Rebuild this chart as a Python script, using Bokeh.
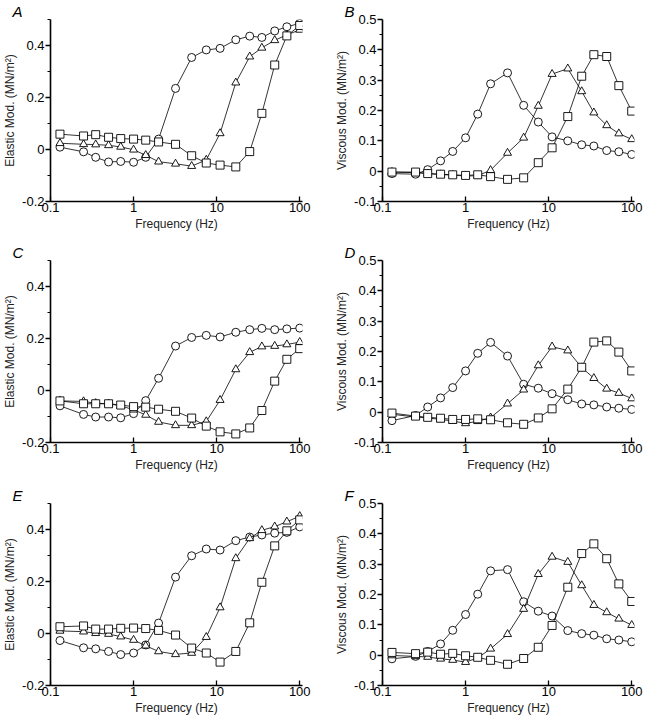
from bokeh.plotting import figure
from bokeh.layouts import column, row
from bokeh.models import FixedTicker, Range1d
from bokeh.embed import file_html
from bokeh.resources import INLINE

freq = [0.13, 0.25, 0.35, 0.5, 0.7, 1, 1.4, 2, 3.2, 5, 7.5, 11, 17, 25, 35, 50, 70, 100]

# Panel A (elastic)
a_circ = [0.009, -0.009, -0.03, -0.048, -0.046, -0.049, -0.03, 0.04, 0.235, 0.354, 0.383, 0.389, 0.422, 0.436, 0.431, 0.456, 0.472, 0.485]
a_tri = [0.024, 0.02, 0.019, 0.016, 0.01, -0.001, -0.022, -0.047, -0.055, -0.064, -0.04, 0.062, 0.257, 0.357, 0.391, 0.42, 0.441, 0.46]
a_sq = [0.059, 0.052, 0.057, 0.047, 0.042, 0.04, 0.036, 0.029, 0.02, -0.024, -0.052, -0.06, -0.067, -0.008, 0.139, 0.325, 0.437, 0.477]
# Panel B (viscous)
b_circ = [-0.008, -0.01, 0.005, 0.034, 0.065, 0.11, 0.188, 0.288, 0.324, 0.217, 0.162, 0.113, 0.1, 0.087, 0.083, 0.068, 0.064, 0.055]
b_tri = [-0.003, -0.005, -0.008, -0.011, -0.013, -0.016, -0.015, 0.003, 0.06, 0.11, 0.215, 0.32, 0.338, 0.263, 0.193, 0.151, 0.124, 0.105]
b_sq = [-0.003, -0.003, -0.008, -0.01, -0.012, -0.014, -0.012, -0.018, -0.027, -0.022, 0.028, 0.077, 0.18, 0.313, 0.384, 0.378, 0.282, 0.198]
# Panel C (elastic)
c_circ = [-0.059, -0.092, -0.102, -0.102, -0.105, -0.089, -0.039, 0.047, 0.171, 0.204, 0.212, 0.206, 0.224, 0.234, 0.239, 0.234, 0.237, 0.24]
c_tri = [-0.04, -0.042, -0.049, -0.051, -0.059, -0.074, -0.094, -0.121, -0.134, -0.134, -0.119, -0.037, 0.081, 0.147, 0.169, 0.171, 0.177, 0.186]
c_sq = [-0.04, -0.051, -0.051, -0.051, -0.056, -0.062, -0.064, -0.072, -0.08, -0.106, -0.137, -0.159, -0.167, -0.144, -0.077, 0.036, 0.12, 0.161]
# Panel D (viscous)
d_circ = [-0.028, -0.011, 0.017, 0.047, 0.081, 0.136, 0.194, 0.23, 0.185, 0.092, 0.079, 0.061, 0.041, 0.027, 0.024, 0.017, 0.013, 0.009]
d_tri = [-0.007, -0.016, -0.019, -0.024, -0.029, -0.037, -0.03, -0.018, 0.028, 0.074, 0.154, 0.216, 0.203, 0.147, 0.112, 0.077, 0.063, 0.045]
d_sq = [-0.003, -0.013, -0.017, -0.02, -0.024, -0.024, -0.022, -0.025, -0.035, -0.04, -0.019, 0.011, 0.076, 0.148, 0.231, 0.235, 0.198, 0.136]
# Panel E (elastic)
e_circ = [-0.027, -0.055, -0.059, -0.069, -0.081, -0.075, -0.044, 0.04, 0.217, 0.299, 0.325, 0.321, 0.357, 0.371, 0.379, 0.386, 0.389, 0.41]
e_tri = [0.01, 0.007, 0.001, -0.002, -0.012, -0.025, -0.047, -0.069, -0.08, -0.075, -0.014, 0.1, 0.289, 0.366, 0.397, 0.411, 0.43, 0.451]
e_sq = [0.026, 0.029, 0.017, 0.017, 0.02, 0.021, 0.019, 0.012, -0.006, -0.056, -0.075, -0.11, -0.069, 0.041, 0.197, 0.337, 0.395, 0.437]
# Panel F (viscous)
f_circ = [-0.012, -0.004, 0.012, 0.037, 0.082, 0.134, 0.201, 0.278, 0.282, 0.176, 0.145, 0.129, 0.081, 0.071, 0.066, 0.054, 0.05, 0.044]
f_tri = [-0.001, -0.004, -0.006, -0.012, -0.016, -0.023, -0.009, 0.021, 0.069, 0.152, 0.267, 0.324, 0.307, 0.23, 0.165, 0.141, 0.12, 0.099]
f_sq = [0.009, 0.005, 0.01, 0.003, 0.006, -0.002, -0.007, -0.017, -0.03, -0.011, 0.026, 0.098, 0.224, 0.335, 0.367, 0.318, 0.235, 0.177]

x_ticks = [0.1, 1, 10, 100]
x_tick_labels = ["0.1", "1", "10", "100"]
el_ticks = [-0.2, 0, 0.2, 0.4]
el_minor = [-0.1, 0.1, 0.3, 0.5]
el_labels = ["-0.2", "0", "0.2", "0.4"]
vi_ticks = [-0.1, 0, 0.1, 0.2, 0.3, 0.4, 0.5]
vi_minor = [-0.05, 0.05, 0.15, 0.25, 0.35, 0.45]
vi_labels = ["-0.1", "0", "0.1", "0.2", "0.3", "0.4", "0.5"]

FONT = "Liberation Sans"


def make_panel(letter, circ, tri, sq, elastic, left_col, top, bottom):
    if elastic:
        yr = (-0.2, 0.5)
        ticks, minor, labels = el_ticks, el_minor, el_labels
        ylab = "Elastic Mod. (MN/m²)"
    else:
        yr = (-0.1, 0.5)
        ticks, minor, labels = vi_ticks, vi_minor, vi_labels
        ylab = "Viscous Mod. (MN/m²)"
    p = figure(x_axis_type="log", x_range=Range1d(0.1, 108, bounds=None),
               y_range=Range1d(*yr),
               frame_width=252, frame_height=182,
               output_backend="svg", toolbar_location=None)
    p.min_border_left = 46
    p.min_border_right = 30 if left_col else 11
    p.min_border_top = top
    p.min_border_bottom = bottom
    p.outline_line_color = None
    p.grid.visible = False
    p.background_fill_color = "white"
    p.border_fill_color = "white"

    p.title.text = letter
    p.title.align = "left"
    p.title.offset = -38
    p.title.standoff = 0
    p.title.text_font = FONT
    p.title.text_font_size = "15px"
    p.title.text_font_style = "italic"
    p.title.text_color = "black"

    xa = p.xaxis[0]
    xa.ticker = FixedTicker(ticks=x_ticks)
    xa.major_label_overrides = {t: l for t, l in zip(x_ticks, x_tick_labels)}
    xa.major_tick_in = 5
    xa.major_tick_out = 0
    xa.minor_tick_line_color = None
    xa.axis_label = "Frequency (Hz)"

    ya = p.yaxis[0]
    ya.ticker = FixedTicker(ticks=ticks, minor_ticks=minor)
    ya.major_label_overrides = {t: l for t, l in zip(ticks, labels)}
    ya.major_tick_in = 0
    ya.major_tick_out = 5
    ya.minor_tick_in = 0
    ya.minor_tick_out = 3
    ya.axis_label = ylab

    for ax in (xa, ya):
        ax.axis_line_width = 1.6
        ax.axis_line_color = "black"
        ax.major_tick_line_width = 1.3
        ax.minor_tick_line_width = 1.1
        ax.major_label_text_font = FONT
        ax.major_label_text_font_size = "13px"
        ax.major_label_text_color = "black"
        ax.axis_label_text_font = FONT
        ax.axis_label_text_font_size = "12px"
        ax.axis_label_text_font_style = "normal"
        ax.axis_label_text_color = "#222222"
        ax.major_label_standoff = 1
        ax.axis_label_standoff = 2

    for ys, marker in ((circ, "circle"), (tri, "triangle"), (sq, "square")):
        p.line(freq, ys, line_color="black", line_width=0.8)
        p.scatter(freq, ys, marker=marker, size=8, fill_color="white",
                  line_color="black", line_width=0.9)
    return p


pa = make_panel("A", a_circ, a_tri, a_sq, True, True, 18, 40)
pb = make_panel("B", b_circ, b_tri, b_sq, False, False, 18, 40)
pc = make_panel("C", c_circ, c_tri, c_sq, True, True, 18, 42)
pd = make_panel("D", d_circ, d_tri, d_sq, False, False, 18, 42)
pe = make_panel("E", e_circ, e_tri, e_sq, True, True, 18, 30)
pf = make_panel("F", f_circ, f_tri, f_sq, False, False, 18, 30)

layout = column(row(pa, pb), row(pc, pd), row(pe, pf))
open("out.html", "w").write(file_html(layout, INLINE))
